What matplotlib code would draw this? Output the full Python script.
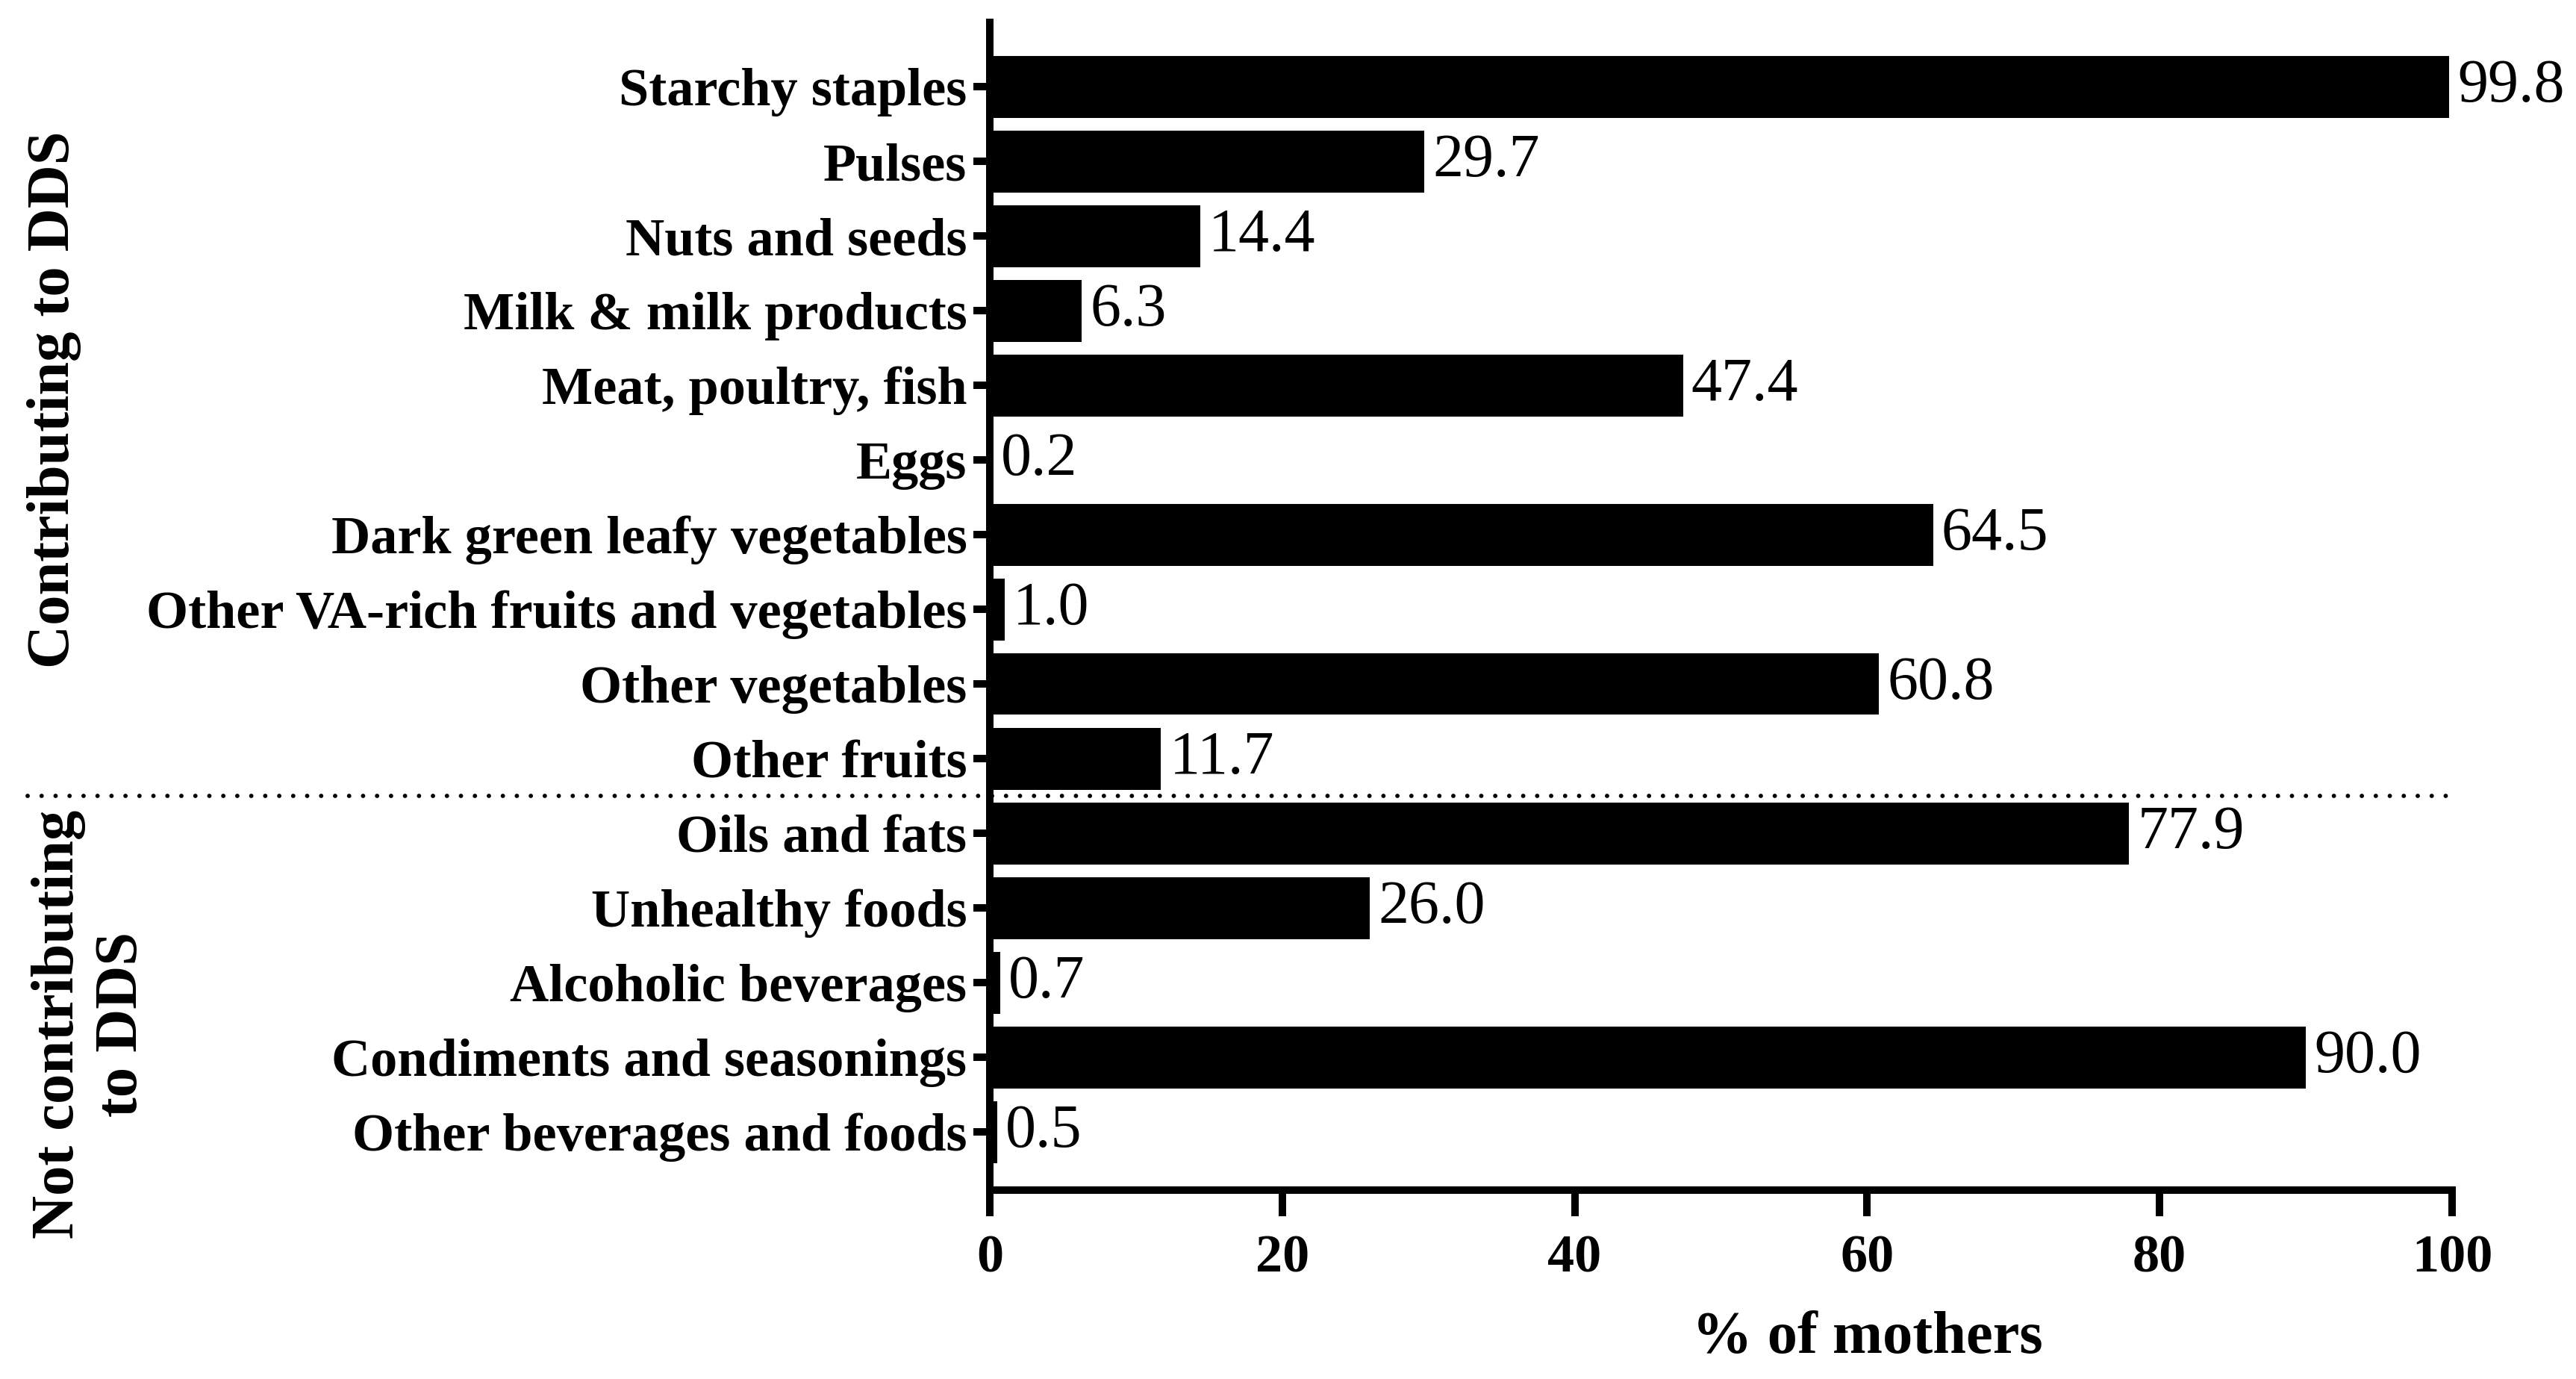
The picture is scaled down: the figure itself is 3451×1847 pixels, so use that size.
import matplotlib
matplotlib.use("Agg")
import matplotlib.pyplot as plt
import matplotlib.transforms as mtransforms

plt.rcParams['font.family'] = ['Liberation Serif', 'DejaVu Serif']

# %% data
categories = ['Starchy staples', 'Pulses', 'Nuts and seeds', 'Milk & milk products',
              'Meat, poultry, fish', 'Eggs', 'Dark green leafy vegetables',
              'Other VA-rich fruits and vegetables', 'Other vegetables', 'Other fruits',
              'Oils and fats', 'Unhealthy foods', 'Alcoholic beverages',
              'Condiments and seasonings', 'Other beverages and foods']
percent = [99.8, 29.7, 14.4, 6.3, 47.4, 0.2, 64.5, 1.0, 60.8, 11.7,
           77.9, 26.0, 0.7, 90.0, 0.5]
n_contrib = 10
group_labels = ['Contributing to DDS', 'Not contributing\nto DDS']
xticks = [0, 20, 40, 60, 80, 100]

# %% plotting
W, H, dpi = 3451, 1847, 200
fig = plt.figure(figsize=(W / dpi, H / dpi), dpi=dpi)
ax = fig.add_axes([1326 / W, 1 - 1594 / H, (3285 - 1326) / W, (1594 - 30) / H])

ypos = list(range(len(categories)))
ax.barh(ypos, percent, height=0.83, color='black')
ax.set_ylim(14.78, -0.86)
ax.set_xlim(0, 100)

for y, v in zip(ypos, percent):
    ax.annotate(f'{v:.1f}', (v, y), xytext=(4, 0), textcoords='offset points',
                va='center', ha='left', fontsize=29.5)

ax.set_yticks(ypos)
ax.set_yticklabels(categories, fontsize=26, fontweight='bold')
ax.set_xticks(xticks)
ax.set_xticklabels([str(t) for t in xticks], fontsize=26, fontweight='bold')

for s in ['top', 'right']:
    ax.spines[s].set_visible(False)
for s in ['left', 'bottom']:
    ax.spines[s].set_linewidth(3.6)
ax.tick_params(axis='y', length=8, width=3.6, pad=3)
ax.tick_params(axis='x', length=12.6, width=3.6, pad=9)

ax.set_xlabel('% of mothers', fontsize=29, fontweight='bold', va='center')
ax.xaxis.set_label_coords(0.6, -0.127)

# dotted separator between the two groups
trans = mtransforms.blended_transform_factory(fig.transFigure, ax.transData)
ax.plot([37 / W, 3286 / W], [n_contrib - 0.5] * 2, transform=trans, clip_on=False,
        color='black', lw=2.1, linestyle=(0, (0.01, 3.2)), dash_capstyle='round')

fig.text(73 / W, 1 - 535 / H, group_labels[0], rotation=90, ha='center', va='center',
         fontsize=29, fontweight='bold')
fig.text(121 / W, 1 - 1372 / H, group_labels[1], rotation=90, ha='center', va='center',
         fontsize=29, fontweight='bold', multialignment='center', linespacing=1.2)

fig.savefig('out.png', dpi=dpi)
